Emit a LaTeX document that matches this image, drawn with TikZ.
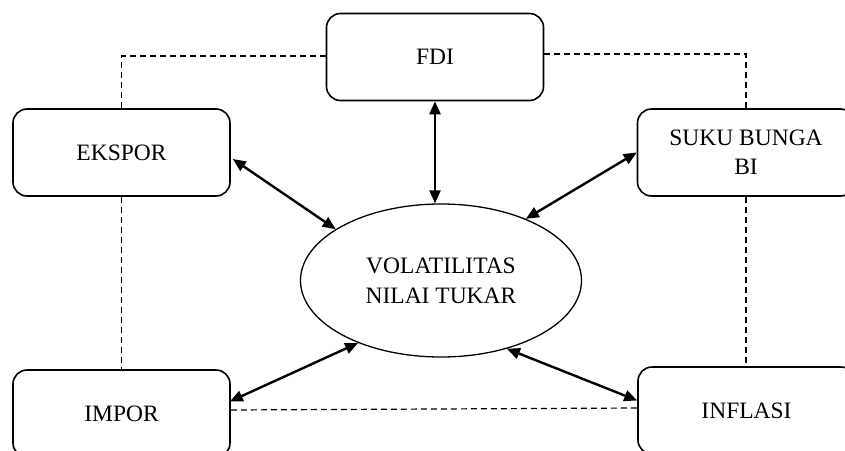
\documentclass[tikz,border=0pt]{standalone}
\usepackage{fontspec}
\setmainfont{Liberation Serif}
\usetikzlibrary{shapes.geometric,arrows.meta}
\begin{document}
\begin{tikzpicture}[x=1pt,y=-1pt,
  box/.style={draw,line width=1.6pt,rounded corners=14pt,minimum width=217pt,minimum height=87pt,inner sep=0pt,align=center,font=\fontsize{23.5}{29}\selectfont},
  oval/.style={draw,ellipse,line width=1.3pt,minimum width=281pt,minimum height=153pt,inner sep=0pt,align=center,font=\fontsize{23.5}{30}\selectfont},
  arr/.style={line width=2.4pt,{Triangle[length=13pt,width=11pt]}-{Triangle[length=13pt,width=11pt]},shorten <=0pt,shorten >=0pt},
  dsh/.style={line width=1.2pt,dash pattern=on 6pt off 4pt}]
\useasboundingbox (0,0) rectangle (845,450);
\clip (0,0) rectangle (845,450);
\node[box] (fdi) at (435,57) {FDI};
\node[box] (ekspor) at (121.5,152.5) {EKSPOR};
\node[box] (suku) at (746,152.5) {SUKU BUNGA\\BI};
\node[box] (impor) at (121.5,413.5) {IMPOR};
\node[box] (inflasi) at (746.5,410.5) {INFLASI};
\node[oval] (vol) at (441,280.5) {VOLATILITAS\\NILAI TUKAR};
% dashed links
\draw[dsh] ([yshift=1pt]fdi.west) -| (ekspor.north);
\draw[dsh] ([yshift=3pt]fdi.east) -| (suku.north);
\draw[dsh] (ekspor.south) -- (impor.north);
\draw[dsh] (suku.south) -- (suku.south |- inflasi.north);
\draw[dsh] ([yshift=3.5pt]impor.east) -- ([yshift=2.5pt]inflasi.west);
% arrows
\draw[arr] (fdi.south) -- (fdi.south |- vol.north);
\draw[arr] ([xshift=2pt,yshift=-6.5pt]ekspor.east) -- (vol.154);
\draw[arr] (suku.west) -- (vol.36);
\draw[arr] ([xshift=-1pt,yshift=12pt]impor.east) -- (vol.217);
\draw[arr] ([yshift=10pt]inflasi.west) -- (vol.314.6);
\end{tikzpicture}
\end{document}
